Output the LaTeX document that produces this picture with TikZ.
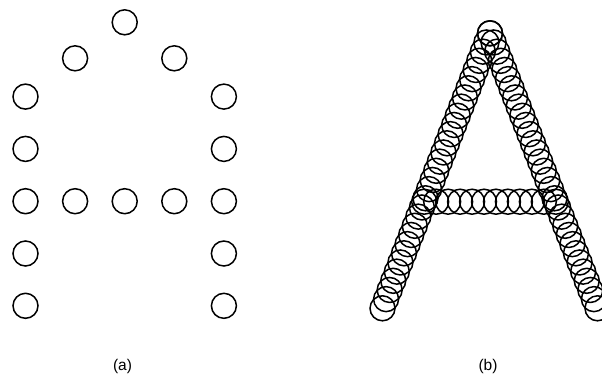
\documentclass[tikz,border=0pt]{standalone}
\usepackage{fontspec}
\setmainfont{Liberation Sans}
\usetikzlibrary{calc}

\begin{document}
\begin{tikzpicture}[x=1pt, y=-1pt,
    ring/.style={circle, draw, line width=1.5pt, minimum size=25pt, inner sep=0pt},
    caption/.style={font=\fontsize{15.5}{18}\selectfont, anchor=base, inner sep=0pt}]
    \useasboundingbox (0,0) rectangle (602,376);
    % (a) sample points
    \node[ring] (top) at (124.7,22.3) {};
    \node[ring] (upl) at (75.1,58.3) {};
    \node[ring] (upr) at (174.3,58.3) {};
    \foreach \r in {0,...,4}
        \node[ring] (left\r) at (25.5,96.6+52.3*\r) {};
    \foreach \r in {0,...,4}
        \node[ring] (right\r) at (223.9,96.6+52.3*\r) {};
    \foreach \c in {1,2,3}
        \node[ring] (mid\c) at (25.5+49.6*\c,201.2) {};
    \node[caption] (capa) at (122.5,370) {(a)};
    % (b) dense strokes
    \coordinate (apex) at (490,33.3);
    \coordinate (footl) at (382.5,308.3);
    \coordinate (footr) at (597.5,308.3);
    \coordinate (barl) at (424.2,201.7);
    \coordinate (barr) at (555.8,201.7);
    \foreach \i in {0,...,30} {
        \node[ring] at ($(apex)!\i/30!(footl)$) {};
        \node[ring] at ($(apex)!\i/30!(footr)$) {};
    }
    \foreach \i in {0,...,11}
        \node[ring] at ($(barl)!\i/11!(barr)$) {};
    \node[caption] (capb) at (488,370) {(b)};
\end{tikzpicture}
\end{document}
